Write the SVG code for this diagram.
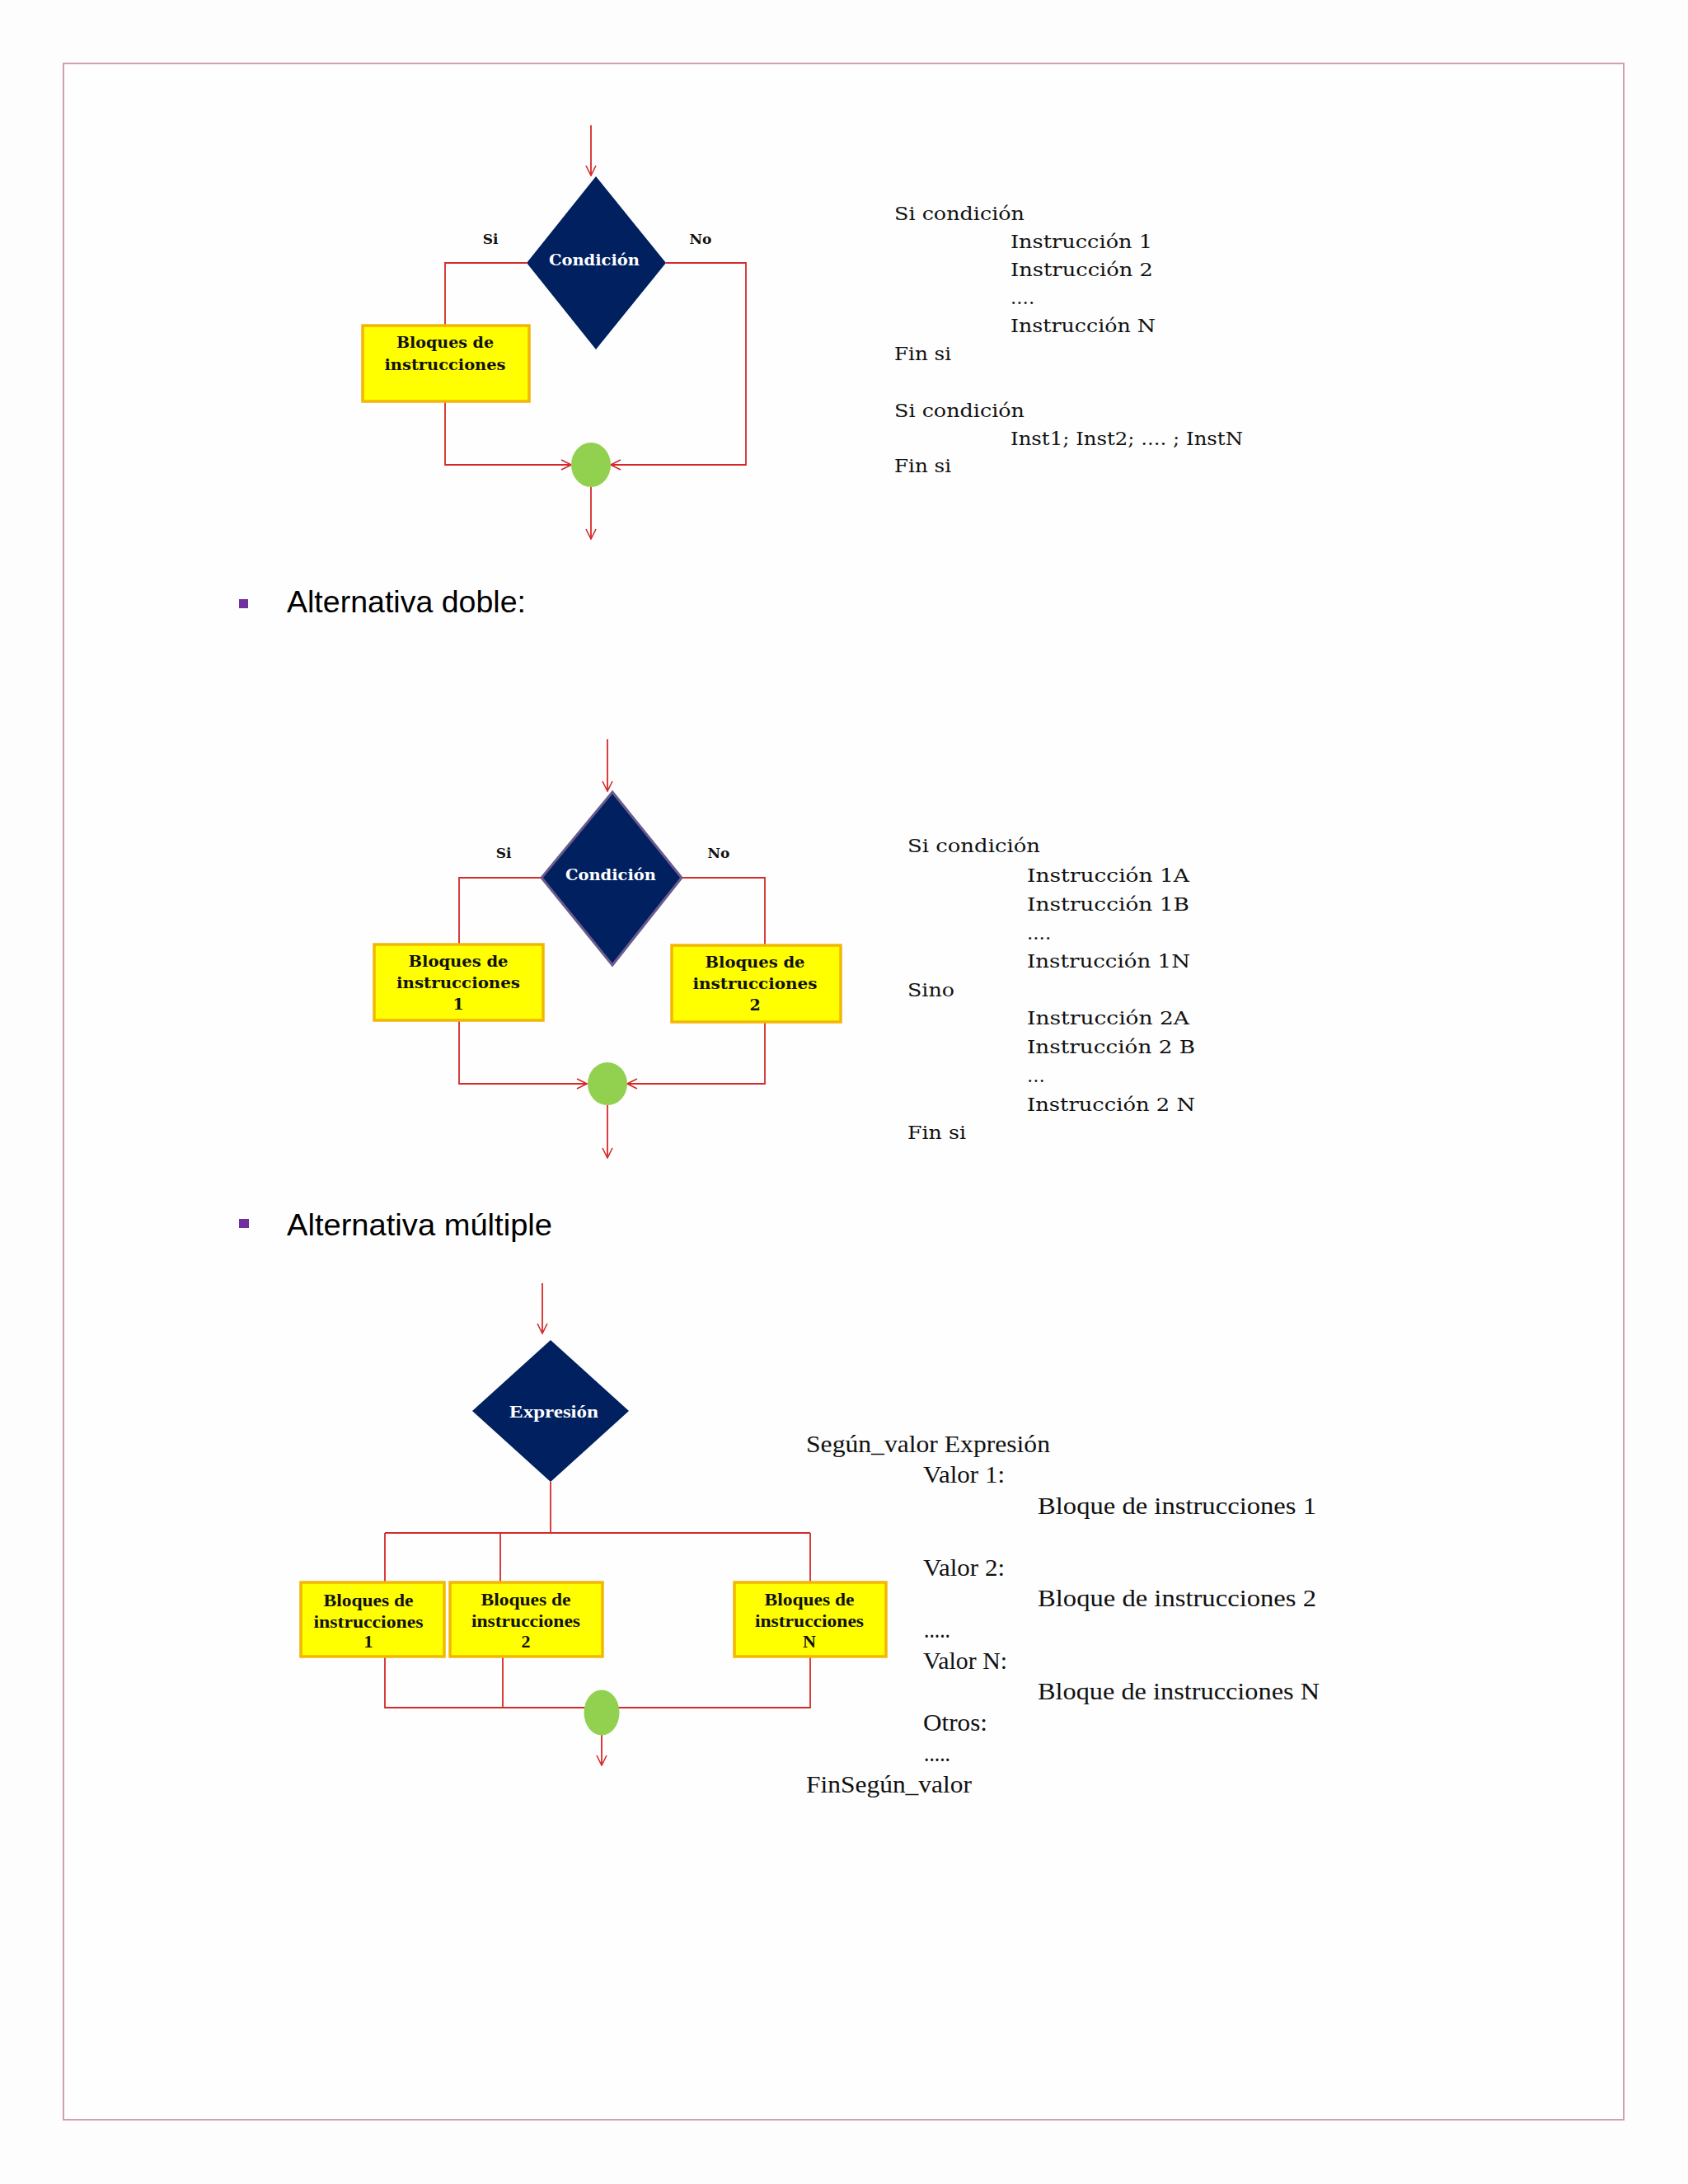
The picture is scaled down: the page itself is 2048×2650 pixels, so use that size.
<svg xmlns="http://www.w3.org/2000/svg" width="2048" height="2650" viewBox="0 0 2048 2650">
<defs>
<marker id="arr" viewBox="0 0 14 14" refX="13" refY="7" markerWidth="14" markerHeight="14" markerUnits="userSpaceOnUse" orient="auto">
<path d="M1,1 L13,7 L1,13" fill="none" stroke="#d42a2a" stroke-width="1.6"/>
</marker>
<style>
.con{fill:none;stroke:#d42a2a;stroke-width:1.8}
.box{fill:#ffff00;stroke:#f2b705;stroke-width:3.5}
.dia{fill:#002060}
.dot{fill:#92d050}
.lbl{font-family:"DejaVu Serif","Liberation Serif",serif;font-weight:bold;fill:#111;text-anchor:middle}
.lbl3{font-family:"Liberation Serif","DejaVu Serif",serif;font-weight:bold;fill:#111;text-anchor:middle}
.wl{font-family:"DejaVu Serif","Liberation Serif",serif;font-weight:bold;fill:#fff;text-anchor:middle}
.wl3{font-family:"Liberation Serif","DejaVu Serif",serif;font-weight:bold;fill:#fff;text-anchor:middle}
.code{font-family:"DejaVu Serif","Liberation Serif",serif;font-size:23px;fill:#111}
.code3{font-family:"Liberation Serif","DejaVu Serif",serif;font-size:29px;fill:#111}
.head{font-family:"Liberation Sans",Arial,sans-serif;font-size:36px;fill:#000}
.bul{fill:#7030a0}
</style>
</defs>
<rect x="0" y="0" width="2048" height="2650" fill="#fdfdfe"/>
<rect x="77" y="77" width="1893" height="2495" fill="#fefefe" stroke="#d39db4" stroke-width="2"/>

<g id="connectors">
<path class="con" d="M717,152 L717,213" marker-end="url(#arr)"/>
<path class="con" d="M639,319 L540,319 L540,395"/>
<path class="con" d="M540,487 L540,564 L693,564" marker-end="url(#arr)"/>
<path class="con" d="M808,319 L905,319 L905,564 L741,564" marker-end="url(#arr)"/>
<path class="con" d="M717,591 L717,654" marker-end="url(#arr)"/>

<path class="con" d="M737,897 L737,960" marker-end="url(#arr)"/>
<path class="con" d="M657,1065 L557,1065 L557,1146"/>
<path class="con" d="M827,1065 L928,1065 L928,1147"/>
<path class="con" d="M557,1238 L557,1315 L712,1315" marker-end="url(#arr)"/>
<path class="con" d="M928,1240 L928,1315 L761,1315" marker-end="url(#arr)"/>
<path class="con" d="M737,1341 L737,1405" marker-end="url(#arr)"/>

<path class="con" d="M658,1557 L658,1618" marker-end="url(#arr)"/>
<path class="con" d="M668,1798 L668,1860"/>
<path class="con" d="M467,1860 L983,1860"/>
<path class="con" d="M467,1860 L467,1920 M607,1860 L607,1920 M983,1860 L983,1920"/>
<path class="con" d="M467,2010 L467,2072 L983,2072 L983,2010 M610,2010 L610,2072"/>
<path class="con" d="M730,2105 L730,2142" marker-end="url(#arr)"/>
</g>

<!-- Diagram 1 -->
<g id="d1-decision">
<polygon class="dia" points="723,214 808,319 723,424 639,319"/>
<text class="wl" x="721" y="322" font-size="19" textLength="110" lengthAdjust="spacingAndGlyphs">Condición</text>
</g>
<g id="d1-si"><text class="lbl" x="595" y="296" font-size="17">Si</text></g>
<g id="d1-no"><text class="lbl" x="850" y="296" font-size="17">No</text></g>
<g id="d1-block">
<rect class="box" x="440" y="395" width="202" height="92"/>
<text class="lbl" x="540" y="422" font-size="19" textLength="118" lengthAdjust="spacingAndGlyphs">Bloques de</text>
<text class="lbl" x="540" y="449" font-size="19" textLength="147" lengthAdjust="spacingAndGlyphs">instrucciones</text>
</g>
<g id="d1-join"><ellipse class="dot" cx="717" cy="564" rx="24" ry="27"/></g>

<g id="d1-code">
<text class="code" x="1085" y="267" textLength="158" lengthAdjust="spacingAndGlyphs">Si condición</text>
<text class="code" x="1226" y="301" textLength="172" lengthAdjust="spacingAndGlyphs">Instrucción 1</text>
<text class="code" x="1226" y="335" textLength="173" lengthAdjust="spacingAndGlyphs">Instrucción 2</text>
<text class="code" x="1226" y="369">....</text>
<text class="code" x="1226" y="403" textLength="176" lengthAdjust="spacingAndGlyphs">Instrucción N</text>
<text class="code" x="1085" y="437" textLength="69" lengthAdjust="spacingAndGlyphs">Fin si</text>
<text class="code" x="1085" y="506" textLength="158" lengthAdjust="spacingAndGlyphs">Si condición</text>
<text class="code" x="1226" y="540" textLength="282" lengthAdjust="spacingAndGlyphs">Inst1; Inst2; .... ; InstN</text>
<text class="code" x="1085" y="573" textLength="69" lengthAdjust="spacingAndGlyphs">Fin si</text>
</g>

<!-- Heading doble -->
<g id="h-doble">
<rect class="bul" x="290" y="727" width="11" height="11"/>
<text class="head" x="348" y="743" textLength="290" lengthAdjust="spacingAndGlyphs">Alternativa doble:</text>
</g>

<!-- Diagram 2 -->
<g id="d2-decision">
<polygon class="dia" points="743,961 827,1065 743,1171 657,1065" stroke="#6b5b8e" stroke-width="3"/>
<text class="wl" x="741" y="1068" font-size="19" textLength="110" lengthAdjust="spacingAndGlyphs">Condición</text>
</g>
<g id="d2-si"><text class="lbl" x="611" y="1041" font-size="17">Si</text></g>
<g id="d2-no"><text class="lbl" x="872" y="1041" font-size="17">No</text></g>
<g id="d2-block1">
<rect class="box" x="454" y="1146" width="205" height="92"/>
<text class="lbl" x="556" y="1173" font-size="19" textLength="121" lengthAdjust="spacingAndGlyphs">Bloques de</text>
<text class="lbl" x="556" y="1199" font-size="19" textLength="150" lengthAdjust="spacingAndGlyphs">instrucciones</text>
<text class="lbl" x="556" y="1225" font-size="19">1</text>
</g>
<g id="d2-block2">
<rect class="box" x="815" y="1147" width="205" height="93"/>
<text class="lbl" x="916" y="1174" font-size="19" textLength="121" lengthAdjust="spacingAndGlyphs">Bloques de</text>
<text class="lbl" x="916" y="1200" font-size="19" textLength="151" lengthAdjust="spacingAndGlyphs">instrucciones</text>
<text class="lbl" x="916" y="1226" font-size="19">2</text>
</g>
<g id="d2-join"><ellipse class="dot" cx="737" cy="1315" rx="24" ry="26"/></g>

<g id="d2-code">
<text class="code" x="1101" y="1034" textLength="161" lengthAdjust="spacingAndGlyphs">Si condición</text>
<text class="code" x="1246" y="1070" textLength="197" lengthAdjust="spacingAndGlyphs">Instrucción 1A</text>
<text class="code" x="1246" y="1105" textLength="197" lengthAdjust="spacingAndGlyphs">Instrucción 1B</text>
<text class="code" x="1246" y="1140">....</text>
<text class="code" x="1246" y="1174" textLength="198" lengthAdjust="spacingAndGlyphs">Instrucción 1N</text>
<text class="code" x="1101" y="1209" textLength="57" lengthAdjust="spacingAndGlyphs">Sino</text>
<text class="code" x="1246" y="1243" textLength="197" lengthAdjust="spacingAndGlyphs">Instrucción 2A</text>
<text class="code" x="1246" y="1278" textLength="204" lengthAdjust="spacingAndGlyphs">Instrucción 2 B</text>
<text class="code" x="1246" y="1313">...</text>
<text class="code" x="1246" y="1348" textLength="204" lengthAdjust="spacingAndGlyphs">Instrucción 2 N</text>
<text class="code" x="1101" y="1382" textLength="71" lengthAdjust="spacingAndGlyphs">Fin si</text>
</g>

<!-- Heading multiple -->
<g id="h-multiple">
<rect class="bul" x="290" y="1479" width="12" height="11"/>
<text class="head" x="348" y="1499" textLength="322" lengthAdjust="spacingAndGlyphs">Alternativa múltiple</text>
</g>

<!-- Diagram 3 -->
<g id="d3-decision">
<polygon class="dia" points="668,1626 763,1712 668,1798 573,1712"/>
<text class="wl3" x="672" y="1720" font-size="22" textLength="108" lengthAdjust="spacingAndGlyphs">Expresión</text>
</g>
<g id="d3-block1">
<rect class="box" x="365" y="1920" width="174" height="90"/>
<text class="lbl3" x="447" y="1949" font-size="22" textLength="109" lengthAdjust="spacingAndGlyphs">Bloques de</text>
<text class="lbl3" x="447" y="1975" font-size="22" textLength="133" lengthAdjust="spacingAndGlyphs">instrucciones</text>
<text class="lbl3" x="447" y="1999" font-size="22">1</text>
</g>
<g id="d3-block2">
<rect class="box" x="546" y="1920" width="185" height="90"/>
<text class="lbl3" x="638" y="1948" font-size="22" textLength="109" lengthAdjust="spacingAndGlyphs">Bloques de</text>
<text class="lbl3" x="638" y="1974" font-size="22" textLength="132" lengthAdjust="spacingAndGlyphs">instrucciones</text>
<text class="lbl3" x="638" y="1999" font-size="22">2</text>
</g>
<g id="d3-blockN">
<rect class="box" x="891" y="1920" width="184" height="90"/>
<text class="lbl3" x="982" y="1948" font-size="22" textLength="109" lengthAdjust="spacingAndGlyphs">Bloques de</text>
<text class="lbl3" x="982" y="1974" font-size="22" textLength="132" lengthAdjust="spacingAndGlyphs">instrucciones</text>
<text class="lbl3" x="982" y="1999" font-size="22">N</text>
</g>
<g id="d3-join"><ellipse class="dot" cx="730" cy="2078" rx="21.5" ry="27.5"/></g>

<g id="d3-code">
<text class="code3" x="978" y="1762" textLength="296" lengthAdjust="spacingAndGlyphs">Según_valor Expresión</text>
<text class="code3" x="1120" y="1799" textLength="99" lengthAdjust="spacingAndGlyphs">Valor 1:</text>
<text class="code3" x="1259" y="1837" textLength="338" lengthAdjust="spacingAndGlyphs">Bloque de instrucciones 1</text>
<text class="code3" x="1120" y="1912" textLength="99" lengthAdjust="spacingAndGlyphs">Valor 2:</text>
<text class="code3" x="1259" y="1949" textLength="338" lengthAdjust="spacingAndGlyphs">Bloque de instrucciones 2</text>
<text class="code3" x="1121" y="1987" textLength="32" lengthAdjust="spacingAndGlyphs">.....</text>
<text class="code3" x="1120" y="2025" textLength="102" lengthAdjust="spacingAndGlyphs">Valor N:</text>
<text class="code3" x="1259" y="2062" textLength="342" lengthAdjust="spacingAndGlyphs">Bloque de instrucciones N</text>
<text class="code3" x="1120" y="2100" textLength="78" lengthAdjust="spacingAndGlyphs">Otros:</text>
<text class="code3" x="1121" y="2137" textLength="32" lengthAdjust="spacingAndGlyphs">.....</text>
<text class="code3" x="978" y="2175" textLength="201" lengthAdjust="spacingAndGlyphs">FinSegún_valor</text>
</g>
</svg>
